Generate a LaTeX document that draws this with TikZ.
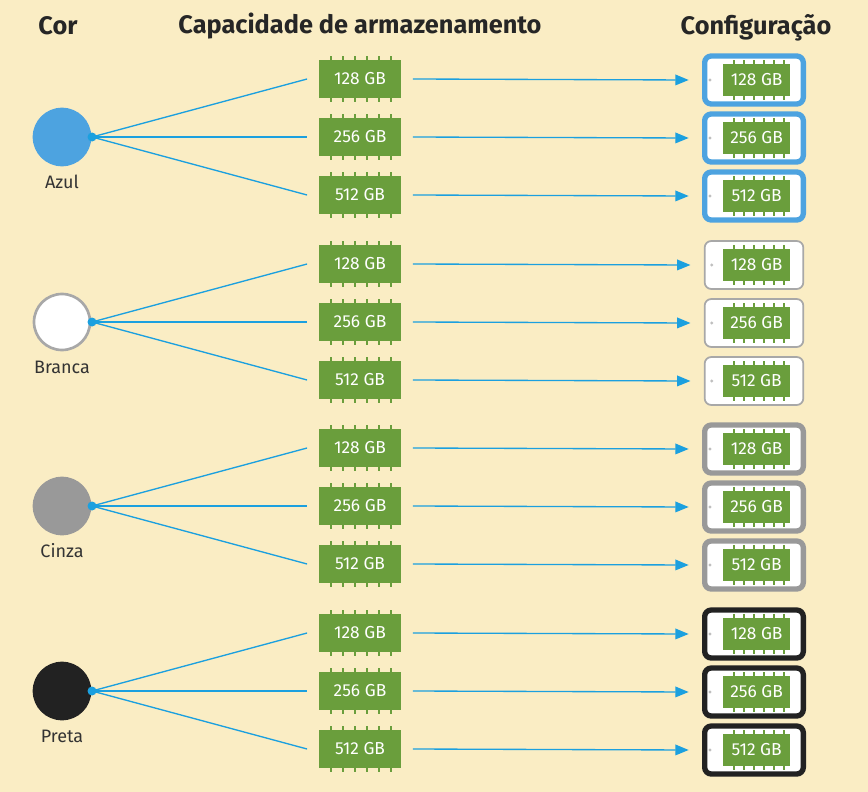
\documentclass[tikz,border=0pt]{standalone}
\usepackage{fontspec}
\setmainfont{Fira Sans}
\usepackage{xcolor}
\usetikzlibrary{arrows.meta}
\definecolor{bg}{HTML}{FAEDC4}
\definecolor{chipgreen}{HTML}{6A9E3C}
\definecolor{linkblue}{HTML}{1BA0DF}
\definecolor{azul}{HTML}{4DA3E0}
\definecolor{branca}{HTML}{FFFFFF}
\definecolor{brancaedge}{HTML}{A8A8A8}
\definecolor{cinza}{HTML}{999999}
\definecolor{preta}{HTML}{222222}
\tikzset{
  chip/.style={fill=chipgreen, text=white, minimum width=61pt, minimum height=28pt, inner sep=0pt, font=\fontsize{13}{13}\selectfont},
  smallchip/.style={fill=chipgreen, text=white, minimum width=50pt, minimum height=24pt, inner sep=0pt, font=\fontsize{13}{13}\selectfont},
  device/.style={rounded corners=5pt, fill=white, minimum width=74pt, minimum height=36pt},
  link/.style={linkblue, line width=1pt},
  title/.style={font=\bfseries\fontsize{19}{19}\selectfont, text=black!85}
}
\begin{document}
\begin{tikzpicture}[x=0.75pt,y=-0.75pt]
  \fill[bg] (0,0) rectangle (868,792);
  \node[title] (hcor) at (58,26) {Cor};
  \node[title] (hcap) at (360,26) {Capacidade de armazenamento};
  \node[title] (hcfg) at (756,28) {Configuração};
  \foreach \c/\edge/\name/\yc/\lw [count=\g] in {azul/azul/Azul/137/4pt, branca/brancaedge/Branca/322/1.3pt, cinza/cinza/Cinza/506/4pt, preta/preta/Preta/691/4pt}{
    \node[circle, fill=\c, draw=\edge, line width=2pt, minimum size=42pt] (col\g) at (62,\yc) {};
    \node[font=\fontsize{13.5}{13.5}\selectfont, text=black!80] (lab\g) at (62,\yc+45) {\name};
    \coordinate (hub\g) at (92,\yc);
    \fill[linkblue] (hub\g) circle (4.5);
    \foreach \size/\dy [count=\k] in {128/-58,256/0,512/58}{
      \node[chip] (chip\g\k) at (360,\yc+\dy) {\size\ GB};
      \foreach \p in {-30,-18,...,30}{
        \fill[chipgreen] ([xshift=\p*0.75pt]chip\g\k.north) rectangle ++(1.6pt,3pt);
        \fill[chipgreen] ([xshift=\p*0.75pt]chip\g\k.south) rectangle ++(1.6pt,-3pt);
      }
      \draw[link] (hub\g) -- ([xshift=-9pt]chip\g\k.west);
      \node[device, draw=\edge, line width=\lw] (dev\g\k) at (754,\yc+\dy+1) {};
      \node[smallchip] (ichip\g\k) at ([xshift=2pt]dev\g\k.center) {\size\ GB};
      \foreach \p in {-24,-14,...,26}{
        \fill[chipgreen] ([xshift=\p*0.75pt]ichip\g\k.north) rectangle ++(1.4pt,2.5pt);
        \fill[chipgreen] ([xshift=\p*0.75pt]ichip\g\k.south) rectangle ++(1.4pt,-2.5pt);
      }
      \fill[black!25] ([xshift=6pt]dev\g\k.west) circle (1.6);
      \draw[link, -{Triangle[length=10pt,width=8pt]}] ([xshift=9pt]chip\g\k.east) -- ([xshift=-10pt]dev\g\k.west);
    }
  }
\end{tikzpicture}
\end{document}
